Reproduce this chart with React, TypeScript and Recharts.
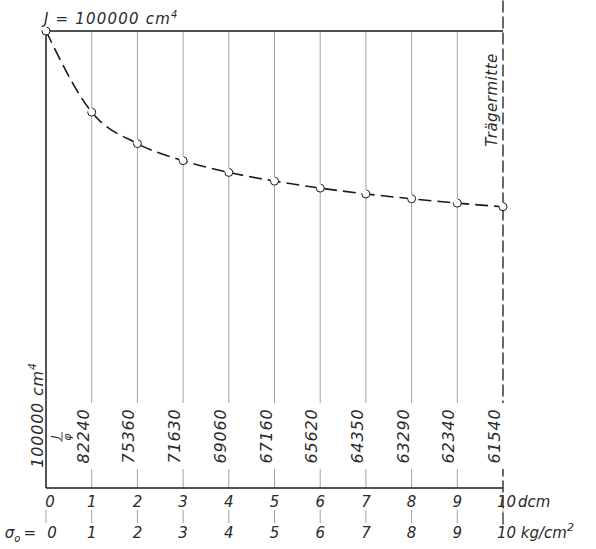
import React from 'react'
import { ComposedChart, Line, XAxis, YAxis, ReferenceLine } from 'recharts'

// distance from support in dcm, and moment of inertia J in cm^4
const positions = [0, 1, 2, 3, 4, 5, 6, 7, 8, 9, 10]
const inertia = [100000, 82240, 75360, 71630, 69060, 67160, 65620, 64350, 63290, 62340, 61540]
const stressTicks = [0, 1, 2, 3, 4, 5, 6, 7, 8, 9, 10]
const gridLines = [1, 2, 3, 4, 5, 6, 7, 8, 9]

const data = positions.map((x, i) => ({ x, J: inertia[i] }))

const FONT = '"DejaVu Sans", sans-serif'
const INK = '#1a1a1a'

const textStyle = { fontFamily: FONT, fontStyle: 'italic' as const, fill: '#2a2a2a' }

function ValueLabel({ vx, value }: { vx: number; value: number }) {
  return (
    <g>
      <rect x={vx - 16} y={403} width={18} height={66} fill="#fff" />
      <text
        transform={`translate(${vx - 3}, 436) rotate(-90)`}
        textAnchor="middle"
        fontSize={16}
        letterSpacing={0.8}
        {...textStyle}
      >
        {value}
      </text>
    </g>
  )
}

function gridLabel(i: number) {
  return (props: any) => <ValueLabel vx={props.viewBox.x} value={inertia[i]} />
}

function leftLabel(props: any) {
  const vx = props.viewBox.x
  return (
    <g>
      <text transform={`translate(${vx - 3}, 415) rotate(-90)`} textAnchor="middle" fontSize={16} letterSpacing={0.8} {...textStyle}>
        100000 cm
        <tspan fontSize={11} dy={-7}>4</tspan>
      </text>
      <g transform={`translate(${vx + 16}, 437) rotate(-90)`}>
        <text x={0} y={-3} textAnchor="middle" fontSize={11} {...textStyle}>J</text>
        <line x1={-5} y1={0} x2={5} y2={0} stroke={INK} strokeWidth={0.8} />
        <text x={0} y={9} textAnchor="middle" fontSize={11} {...textStyle}>φ</text>
      </g>
    </g>
  )
}

function topLabel(props: any) {
  const { x, y } = props.viewBox
  return (
    <text x={x - 2} y={y - 7} fontSize={15} letterSpacing={1.2} {...textStyle}>
      J = 100000 cm
      <tspan fontSize={10} dy={-6}>4</tspan>
    </text>
  )
}

function midLabel(props: any) {
  const vx = props.viewBox.x
  return (
    <g>
      <text transform={`translate(${vx - 6}, 100) rotate(-90)`} textAnchor="middle" fontSize={15} letterSpacing={0.5} {...textStyle}>
        Trägermitte
      </text>
      <ValueLabel vx={vx} value={inertia[10]} />
    </g>
  )
}

function BottomTick(props: any) {
  const { x, y, payload } = props
  const i = payload.value as number
  const s = stressTicks[i]
  return (
    <g>
      <line x1={x} y1={y + 22} x2={x} y2={y + 35} stroke="#888" strokeWidth={0.8} />
      {i === 10 ? (
        <>
          <text x={x - 6} y={y + 19} fontSize={15} {...textStyle}>
            10<tspan dx={2}>dcm</tspan>
          </text>
          <text x={x - 6} y={y + 50} fontSize={15} {...textStyle}>
            {s} kg/cm
            <tspan fontSize={11} dy={-7}>2</tspan>
          </text>
        </>
      ) : (
        <>
          <text x={i === 0 ? x + 4 : x} y={y + 19} textAnchor="middle" fontSize={15} {...textStyle}>
            {i}
          </text>
          <text x={i === 0 ? x + 6 : x} y={y + 50} textAnchor="middle" fontSize={15} {...textStyle}>
            {s}
          </text>
          {i === 0 && (
            <text x={x - 10} y={y + 50} textAnchor="end" fontSize={15} {...textStyle}>
              σ<tspan fontSize={10} dy={4}>o</tspan>
              <tspan dy={-4} dx={3}>=</tspan>
            </text>
          )}
        </>
      )}
    </g>
  )
}

export default function App() {
  return (
    <div style={{ width: 596, height: 549, background: '#fff' }}>
      <style>{'body{margin:0;background:#fff}'}</style>
      <ComposedChart width={596} height={549} data={data} margin={{ top: 31, right: 93, left: 46, bottom: 31 }}>
        <XAxis
          dataKey="x"
          type="number"
          domain={[0, 10]}
          ticks={positions}
          interval={0}
          height={30}
          tickSize={0}
          tickMargin={0}
          tickLine={false}
          axisLine={{ stroke: INK, strokeWidth: 1.5 }}
          tick={<BottomTick />}
        />
        <YAxis type="number" domain={[0, 100000]} hide />
        {gridLines.map((g) => (
          <ReferenceLine key={g} x={g} stroke="#8a8a8a" strokeWidth={0.8} label={gridLabel(g)} />
        ))}
        <ReferenceLine x={0} stroke={INK} strokeWidth={1.5} label={leftLabel} />
        <ReferenceLine y={100000} stroke={INK} strokeWidth={1.5} label={topLabel} />
        <ReferenceLine
          segment={[{ x: 10, y: -8000 }, { x: 10, y: 107000 }]}
          ifOverflow="visible"
          stroke={INK}
          strokeWidth={1.3}
          strokeDasharray="12 4"
          label={midLabel}
        />
        <Line
          dataKey="J"
          type="monotone"
          stroke={INK}
          strokeWidth={1.6}
          strokeDasharray="13 6"
          dot={{ r: 4, fill: '#fff', stroke: INK, strokeWidth: 1 }}
          isAnimationActive={false}
        />
      </ComposedChart>
    </div>
  )
}
